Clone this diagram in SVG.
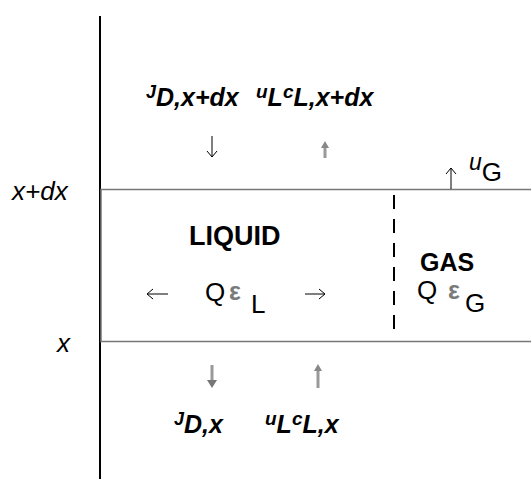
<svg xmlns="http://www.w3.org/2000/svg" width="531" height="479" viewBox="0 0 531 479">
<style>
.bi{font-family:"Liberation Sans",Arial,sans-serif;font-weight:bold;font-style:italic;fill:#000}
.it{font-family:"Liberation Sans",Arial,sans-serif;font-style:italic;fill:#000}
.rg{font-family:"Liberation Sans",Arial,sans-serif;fill:#000}
.bd{font-family:"Liberation Sans",Arial,sans-serif;font-weight:bold;fill:#000}
.eps{font-family:"Liberation Sans",Arial,sans-serif;font-weight:bold;fill:#7a7a7a}
.thin{stroke:#000;stroke-width:1;fill:none}
.gray{stroke:#999;stroke-width:3;fill:none}
</style>
<g id="axis">
<line x1="100" y1="16" x2="100" y2="479" stroke="#000" stroke-width="2"/>
<text class="it" x="12" y="200" font-size="26">x+dx</text>
<text class="it" x="57" y="352" font-size="26">x</text>
</g>
<g id="element">
<rect x="101" y="189.5" width="432" height="152" fill="none" stroke="#777" stroke-width="1.5"/>
<line x1="394" y1="195" x2="394" y2="336" stroke="#000" stroke-width="2" stroke-dasharray="14,10"/>
</g>
<g id="liquid">
<text class="bd" x="189" y="245" font-size="27">LIQUID</text>
<text class="rg" x="205" y="301" font-size="26">Q</text>
<text class="eps" x="229" y="300" font-size="25">ε</text>
<text class="rg" x="251" y="313" font-size="26">L</text>
</g>
<g id="gas">
<text class="bd" x="420" y="271" font-size="25">GAS</text>
<text class="rg" x="417" y="299" font-size="26">Q</text>
<text class="eps" x="448" y="299" font-size="25">ε</text>
<text class="rg" x="465" y="312" font-size="26">G</text>
</g>
<g id="top-labels">
<text class="bi" x="146" y="98"><tspan font-size="18">J</tspan><tspan font-size="25" dy="8">D,x+dx</tspan></text>
<text class="bi" x="256" y="98"><tspan font-size="19">u</tspan><tspan font-size="25" dy="8">L</tspan><tspan font-size="19" dy="-8">c</tspan><tspan font-size="25" dy="8">L,x+dx</tspan></text>
<text class="it" x="469" y="170" font-size="23"><tspan>u</tspan><tspan font-size="26" dy="11" font-style="normal">G</tspan></text>
</g>
<g id="bottom-labels">
<text class="bi" x="174" y="425"><tspan font-size="18">J</tspan><tspan font-size="25" dy="8">D,x</tspan></text>
<text class="bi" x="265" y="425"><tspan font-size="19">u</tspan><tspan font-size="25" dy="8">L</tspan><tspan font-size="19" dy="-8">c</tspan><tspan font-size="25" dy="8">L,x</tspan></text>
</g>
<g id="connectors">
<path class="thin" d="M212 136V157M207 151L212 157L217 151"/>
<path class="gray" d="M325 147V158"/>
<path d="M321 148L325 141L329 148Z" fill="#888"/>
<path class="thin" d="M451 168V189M446 174L451 168L456 174"/>
<path class="thin" d="M147 294H168M153 289L147 294L153 299"/>
<path class="thin" d="M305 294H325M319 289L325 294L319 299"/>
<path class="gray" d="M212 365V383" stroke="#888"/>
<path d="M207 380L212 388L217 380Z" fill="#777"/>
<path class="gray" d="M318 370V388"/>
<path d="M314 371L318 364L322 371Z" fill="#888"/>
</g>
</svg>
